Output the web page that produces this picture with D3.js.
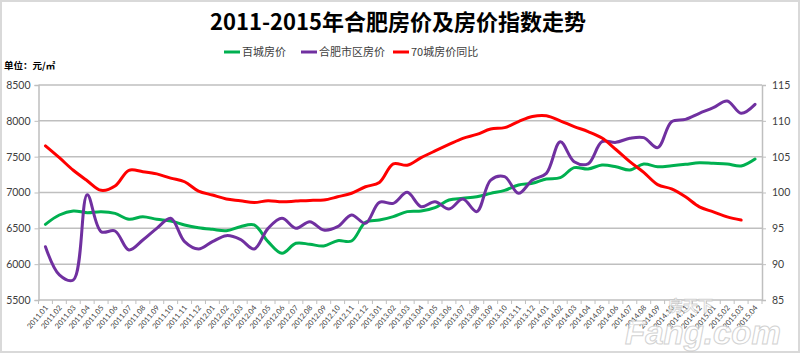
<!DOCTYPE html>
<html>
<head>
<meta charset="utf-8">
<script src="https://cdn.jsdelivr.net/npm/d3@7"></script>
<style>
  body { margin: 0; background: #fff; }
  svg { display: block; }
</style>
</head>
<body>
<svg id="chart" width="800" height="354"></svg>
<script>
// 月份
const months = [
  "2011.01","2011.02","2011.03","2011.04","2011.05","2011.06","2011.07","2011.08","2011.09","2011.10","2011.11","2011.12",
  "2012.01","2012.02","2012.03","2012.04","2012.05","2012.06","2012.07","2012.08","2012.09","2012.10","2012.11","2012.12",
  "2013.01","2013.02","2013.03","2013.04","2013.05","2013.06","2013.07","2013.08","2013.09","2013.10","2013.11","2013.12",
  "2014.01","2014.02","2014.03","2014.04","2014.05","2014.06","2014.07","2014.08","2014.09","2014.10","2014.11","2014.12",
  "2015.01","2015.02","2015.03","2015.04"
];

// 百城房价 (元/㎡)
const baicheng = [
  6556, 6686, 6742, 6719, 6733, 6709, 6626, 6663, 6626, 6602, 6547, 6509, 6486,
  6467, 6523, 6547, 6314, 6151, 6291, 6277, 6254, 6328, 6323, 6584, 6616, 6663,
  6733, 6742, 6788, 6895, 6919, 6942, 6988, 7030, 7105, 7128, 7188, 7207, 7347,
  7328, 7384, 7360, 7314, 7398, 7360, 7374, 7393, 7416, 7407, 7398, 7370, 7467
];

// 合肥市区房价 (元/㎡)
const hefei = [
  6244, 5850, 5779, 6970, 6453, 6463, 6198, 6337, 6500, 6640, 6314, 6212, 6314,
  6398, 6347, 6212, 6500, 6640, 6500, 6593, 6477, 6523, 6686, 6570, 6863, 6849,
  7002, 6802, 6872, 6770, 6909, 6733, 7174, 7221, 6988, 7174, 7267, 7709, 7430,
  7400, 7709, 7700, 7756, 7765, 7626, 7988, 8021, 8105, 8184, 8277, 8105, 8230
];

// 70城房价同比 (右轴)
const tongbi = [
  106.5, 104.85, 103.1, 101.65, 100.3, 100.9, 103.1, 102.9, 102.6, 102.0, 101.5, 100.2, 99.65,
  99.1, 98.86, 98.6, 98.86, 98.7, 98.8, 98.9, 98.95, 99.4, 99.9, 100.8, 101.4, 104.0,
  103.8, 104.86, 105.8, 106.7, 107.56, 108.1, 108.86, 109.05, 109.9, 110.6, 110.7, 110.0, 109.2,
  108.5, 107.6, 106.0, 104.3, 102.8, 101.1, 100.5, 99.4, 98.0, 97.3, 96.6, 96.15, null
];

const leftTicks = [5500, 6000, 6500, 7000, 7500, 8000, 8500];
const rightTicks = [85, 90, 95, 100, 105, 110, 115];

const series = [
  {name: "百城房价", values: baicheng, color: "#00b050", axis: "left"},
  {name: "合肥市区房价", values: hefei, color: "#7030a0", axis: "left"},
  {name: "70城房价同比", values: tongbi, color: "#ff0000", axis: "right"}
];

const svg = d3.select("#chart");
const W = 800, H = 354;
const plot = {left: 38.5, right: 762, top: 85, bottom: 300};

const numFont = "Lato, 'Liberation Sans', sans-serif";
const cjkFont = "'Noto Sans CJK SC', sans-serif";

// 外框
svg.append("rect")
  .attr("x", 1).attr("y", 1).attr("width", W - 2).attr("height", H - 3)
  .attr("fill", "#fff").attr("stroke", "#d9d9d9").attr("stroke-width", 2);

const x = d3.scaleBand().domain(months).range([plot.left, plot.right]).padding(0);
const yL = d3.scaleLinear().domain([5500, 8500]).range([plot.bottom, plot.top]);
const yR = d3.scaleLinear().domain([85, 115]).range([plot.bottom, plot.top]);
const cx = d => x(d) + x.bandwidth() / 2;

// 网格线
svg.append("g").selectAll("line").data(leftTicks.slice(1)).join("line")
  .attr("x1", plot.left).attr("x2", plot.right)
  .attr("y1", d => yL(d)).attr("y2", d => yL(d))
  .attr("stroke", "#bfbfbf").attr("stroke-width", 1.5);

// 左轴
const gL = svg.append("g").attr("transform", `translate(${plot.left},0)`)
  .call(d3.axisLeft(yL).tickValues(leftTicks).tickSize(4).tickPadding(4).tickFormat(d3.format("d")));
gL.select(".domain").attr("stroke", "#bfbfbf").attr("stroke-width", 1.5);
gL.selectAll(".tick line").attr("stroke", "#bfbfbf");
gL.selectAll("text").attr("font-family", numFont).attr("font-size", 10.5).attr("fill", "#404040");

// 右轴
const gR = svg.append("g").attr("transform", `translate(${plot.right},0)`)
  .call(d3.axisRight(yR).tickValues(rightTicks).tickSize(4).tickPadding(6));
gR.select(".domain").attr("stroke", "#bfbfbf").attr("stroke-width", 1.5);
gR.selectAll(".tick line").attr("stroke", "#bfbfbf");
gR.selectAll("text").attr("font-family", numFont).attr("font-size", 10.5).attr("fill", "#404040");

// 底轴
const gB = svg.append("g");
gB.append("line")
  .attr("x1", plot.left).attr("x2", plot.right)
  .attr("y1", plot.bottom).attr("y2", plot.bottom)
  .attr("stroke", "#bfbfbf").attr("stroke-width", 1.5);
gB.selectAll("line.tk").data(d3.range(months.length + 1)).join("line")
  .attr("class", "tk")
  .attr("x1", i => plot.left + i * x.step()).attr("x2", i => plot.left + i * x.step())
  .attr("y1", plot.bottom).attr("y2", plot.bottom + 4)
  .attr("stroke", "#bfbfbf");
gB.selectAll("text").data(months).join("text")
  .attr("transform", d => `translate(${cx(d) + 3},${plot.bottom + 8}) rotate(-50)`)
  .attr("text-anchor", "end")
  .attr("font-family", numFont).attr("font-size", 7.5).attr("fill", "#404040")
  .text(d => d);

// 水印 (在标签下层)
const wm = svg.append("g").attr("opacity", 0.8);
wm.append("text").attr("x", 625).attr("y", 344)
  .attr("font-family", "'Liberation Sans', sans-serif").attr("font-weight", "bold").attr("font-style", "italic")
  .attr("font-size", 33).attr("fill", "#fff").attr("stroke", "#c8c8c8").attr("stroke-width", 1)
  .text("Fang.com");
wm.append("text").attr("x", 668).attr("y", 311)
  .attr("font-family", cjkFont).attr("font-weight", "bold")
  .attr("font-size", 15).attr("fill", "#fff").attr("stroke", "#c8c8c8").attr("stroke-width", 0.8)
  .text("房天下");

// 折线
series.forEach(s => {
  const ys = s.axis === "left" ? yL : yR;
  const line = d3.line()
    .defined(d => d != null)
    .x((d, i) => cx(months[i]))
    .y(d => ys(d))
    .curve(d3.curveCatmullRom.alpha(0.5));
  svg.append("path").datum(s.values)
    .attr("d", line)
    .attr("fill", "none")
    .attr("stroke", s.color)
    .attr("stroke-width", 3)
    .attr("stroke-linejoin", "round")
    .attr("stroke-linecap", "round");
});

// 标题
svg.append("text")
  .attr("x", 398).attr("y", 30).attr("text-anchor", "middle")
  .attr("font-family", cjkFont).attr("font-weight", "bold").attr("font-size", 22)
  .attr("fill", "#000")
  .text("2011-2015年合肥房价及房价指数走势");

// 图例
const legendX = [224, 301, 393];
const lg = svg.append("g").selectAll("g").data(series).join("g")
  .attr("transform", (d, i) => `translate(${legendX[i]},52)`);
lg.append("line").attr("x1", 0).attr("x2", 16).attr("y1", 0).attr("y2", 0)
  .attr("stroke", d => d.color).attr("stroke-width", 3);
lg.append("text").attr("x", 18).attr("y", 4)
  .attr("font-family", cjkFont).attr("font-size", 11).attr("fill", "#404040")
  .text(d => d.name);

// 单位
svg.append("text")
  .attr("x", 4).attr("y", 69)
  .attr("font-family", cjkFont).attr("font-weight", "bold").attr("font-size", 9.5)
  .attr("fill", "#000")
  .text("单位：元/㎡");
</script>
</body>
</html>
